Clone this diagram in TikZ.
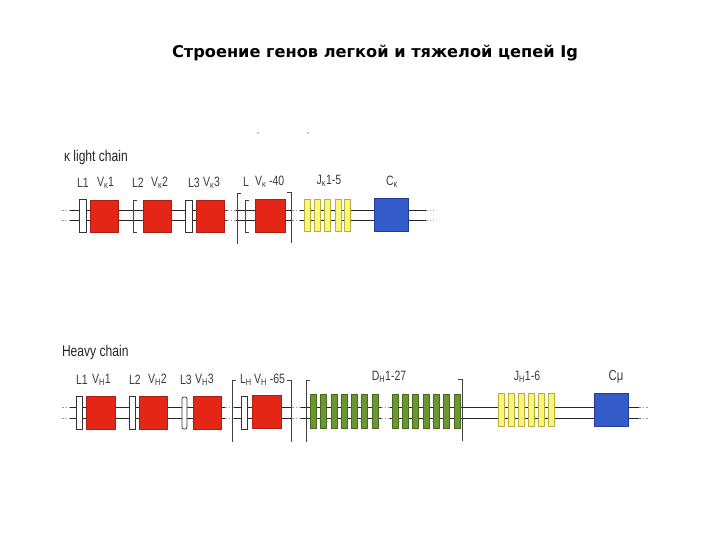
\documentclass[tikz,border=0pt]{standalone}
\usepackage{fontspec}
\setmainfont{Liberation Sans}
\newfontfamily\titlefont{DejaVu Sans}
\newfontfamily\narrowfont[FakeStretch=0.78]{Liberation Sans}
\definecolor{vred}{RGB}{228,38,22}
\definecolor{vredd}{RGB}{170,30,20}
\definecolor{cblue}{RGB}{52,92,200}
\definecolor{cblued}{RGB}{35,60,150}
\definecolor{jyel}{RGB}{250,246,120}
\definecolor{jyeld}{RGB}{185,175,60}
\definecolor{dgreen}{RGB}{108,150,50}
\definecolor{dgreend}{RGB}{70,105,30}
\definecolor{lbl}{RGB}{60,60,60}
\begin{document}
\begin{tikzpicture}[x=1pt,y=-1pt,
  every node/.style={inner sep=0pt,outer sep=0pt},
  vbox/.style={fill=vred,draw=vredd,line width=0.6pt,anchor=north west},
  lbox/.style={fill=white,draw=black!80,line width=0.7pt,anchor=north west},
  jbar/.style={fill=jyel,draw=jyeld,line width=0.6pt,anchor=north west,minimum width=6,minimum height=32},
  dbar/.style={fill=dgreen,draw=dgreend,line width=0.6pt,anchor=north west,minimum width=6,minimum height=34},
  cbox/.style={fill=cblue,draw=cblued,line width=0.6pt,anchor=north west},
  dna/.style={draw=black!85,line width=1pt},
  brk/.style={draw=black!40,line width=1pt,dash pattern=on 1.5pt off 2pt},
  brack/.style={draw=black!75,line width=0.6pt},
  lab/.style={font=\narrowfont\fontsize{13.5}{14}\selectfont,text=lbl,anchor=west},
  head/.style={font=\narrowfont\fontsize{15.5}{16}\selectfont,text=black!85,anchor=west}]
\useasboundingbox[fill=white] (0,0) rectangle (720,540);

% title
\node[font=\titlefont\bfseries\fontsize{16.2}{18}\selectfont] (title) at (375,53) {Строение генов легкой и тяжелой цепей Ig};

% stray specks
\fill[black!45] (258,133) circle (0.9);
\fill[black!45] (308,133) circle (0.9);

% ================= light chain =================
\node[head] (lhead) at (64,157) {κ light chain};

\foreach \r/\y in {a/211,b/221}{
  \coordinate (la0\r) at (62,\y); \coordinate (la1\r) at (70,\y);
  \coordinate (la2\r) at (227,\y); \coordinate (la3\r) at (236,\y);
  \coordinate (la4\r) at (292,\y); \coordinate (la5\r) at (300,\y);
  \coordinate (la6\r) at (426,\y); \coordinate (la7\r) at (434,\y);
  \draw[brk] (la0\r) -- (la1\r);
  \draw[dna] (la1\r) -- (la2\r);
  \draw[brk] (la2\r) -- (la3\r);
  \draw[dna] (la3\r) -- (la4\r);
  \draw[brk] (la4\r) -- (la5\r);
  \draw[dna] (la5\r) -- (la6\r);
  \draw[brk] (la6\r) -- (la7\r);
}

% leader pieces
\node[lbox,minimum width=7,minimum height=33] (lL1) at (79,199) {};
\draw[brack,line width=0.9pt] (137,200) -- (133,200) -- (133,232) -- (137,232);
\coordinate (lL2) at (133,216);
\node[lbox,minimum width=7,minimum height=32] (lL3) at (185,200) {};
\draw[brack] (249,200) -- (245,200) -- (245,232) -- (249,232);
\coordinate (lL4) at (245,216);
% big bracket
\draw[brack] (241,193) -- (237,193) -- (237,244);
\draw[brack] (287,192) -- (291,192) -- (291,243);

% V segments
\node[vbox,minimum width=28,minimum height=32] (lV1) at (90,200) {};
\node[vbox,minimum width=28,minimum height=32] (lV2) at (143,200) {};
\node[vbox,minimum width=28,minimum height=32] (lV3) at (196,200) {};
\node[vbox,minimum width=30,minimum height=33] (lV4) at (255,199) {};

% J segments
\foreach \i/\x in {1/304,2/314,3/324.5,4/335,5/344}{
  \node[jbar] (lJ\i) at (\x,199) {};
}
% C segment
\node[cbox,minimum width=34,minimum height=33] (lC) at (374,198) {};

% labels
\node[lab] (tL1) at (77,183) {L1};
\node[lab] (tV1) at (97,183) {V\textsubscript{κ}1};
\node[lab] (tL2) at (132,183) {L2};
\node[lab] (tV2) at (151,183) {V\textsubscript{κ}2};
\node[lab] (tL3) at (188,183) {L3};
\node[lab] (tV3) at (203,183) {V\textsubscript{κ}3};
\node[lab] (tL4) at (243,182) {L};
\node[lab] (tV4) at (255,182) {V\textsubscript{κ} -40};
\node[lab,anchor=center] (tJ) at (329,181) {J\textsubscript{κ}1-5};
\node[lab,anchor=center] (tC) at (392,182) {C\textsubscript{κ}};

% ================= heavy chain =================
\node[head] (hhead) at (62,352) {Heavy chain};

\foreach \r/\y in {a/407,b/418}{
  \coordinate (ha0\r) at (62,\y); \coordinate (ha1\r) at (70,\y);
  \coordinate (ha2\r) at (225,\y); \coordinate (ha3\r) at (234,\y);
  \coordinate (ha4\r) at (292,\y); \coordinate (ha5\r) at (301,\y);
  \coordinate (ha6\r) at (381,\y); \coordinate (ha7\r) at (390,\y);
  \coordinate (ha8\r) at (639,\y); \coordinate (ha9\r) at (648,\y);
  \draw[brk] (ha0\r) -- (ha1\r);
  \draw[dna] (ha1\r) -- (ha2\r);
  \draw[brk] (ha2\r) -- (ha3\r);
  \draw[dna] (ha3\r) -- (ha4\r);
  \draw[brk] (ha4\r) -- (ha5\r);
  \draw[dna] (ha5\r) -- (ha6\r);
  \draw[brk] (ha6\r) -- (ha7\r);
  \draw[dna] (ha7\r) -- (ha8\r);
  \draw[brk] (ha8\r) -- (ha9\r);
}

% leaders
\node[lbox,minimum width=6,minimum height=33] (hL1) at (76,396) {};
\node[lbox,minimum width=6,minimum height=33] (hL2) at (129,396) {};
\node[lbox,minimum width=5,minimum height=32,rounded corners=2pt] (hL3) at (182,397) {};
\node[lbox,minimum width=6,minimum height=33] (hL4) at (241,396) {};
% brackets
\draw[brack] (236,380) -- (232,380) -- (232,442);
\draw[brack] (287,380) -- (291,380) -- (291,442);
\draw[brack] (310,380) -- (306,380) -- (306,442);
\draw[brack] (458,379) -- (462,379) -- (462,441);

% V segments
\node[vbox,minimum width=29,minimum height=33] (hV1) at (86,396) {};
\node[vbox,minimum width=28,minimum height=33] (hV2) at (139,396) {};
\node[vbox,minimum width=28,minimum height=33] (hV3) at (193,396) {};
\node[vbox,minimum width=29,minimum height=33] (hV4) at (252,395) {};

% D segments
\foreach \i/\x in {1/310,2/320.5,3/331,4/341,5/351,6/361.5,7/372,
                   8/392,9/402.5,10/412.5,11/423,12/433,13/443.5,14/454}{
  \node[dbar] (hD\i) at (\x,394) {};
}
% J segments
\foreach \i/\x in {1/498,2/508,3/518,4/528,5/538,6/548}{
  \node[jbar,minimum height=33] (hJ\i) at (\x,393) {};
}
% C mu
\node[cbox,minimum width=34,minimum height=33] (hC) at (594,393) {};

% labels
\node[lab] (uL1) at (76,380) {L1};
\node[lab] (uV1) at (92,380) {V\textsubscript{H}1};
\node[lab] (uL2) at (129,380) {L2};
\node[lab] (uV2) at (148,380) {V\textsubscript{H}2};
\node[lab] (uL3) at (180,380) {L3};
\node[lab] (uV3) at (195,380) {V\textsubscript{H}3};
\node[lab] (uL4) at (240,380) {L\textsubscript{H}};
\node[lab] (uV4) at (254,380) {V\textsubscript{H} -65};
\node[lab,anchor=center] (uD) at (389,377) {D\textsubscript{H}1-27};
\node[lab,anchor=center] (uJ) at (527,377) {J\textsubscript{H}1-6};
\node[lab,anchor=center,font=\narrowfont\fontsize{14.5}{15}\selectfont] (uC) at (616,377) {Cμ};
\end{tikzpicture}
\end{document}
